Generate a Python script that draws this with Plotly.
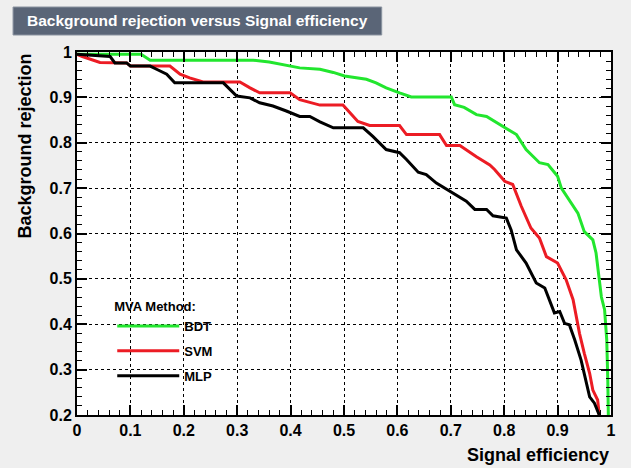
import plotly.graph_objects as go

# ---- data ----
bdt_x = [0.0, 0.12, 0.137, 0.33, 0.36, 0.404, 0.417, 0.455, 0.48, 0.501, 0.542, 0.56, 0.579, 0.604,
         0.626, 0.701, 0.707, 0.725, 0.748, 0.767, 0.798, 0.823, 0.841, 0.866, 0.882, 0.9, 0.907,
         0.938, 0.95, 0.966, 0.972, 0.978, 0.982, 0.988, 0.992, 0.994, 0.995]
bdt_y = [0.995, 0.995, 0.982, 0.982, 0.978, 0.969, 0.965, 0.962, 0.955, 0.947, 0.94, 0.932, 0.921, 0.91,
         0.901, 0.901, 0.884, 0.878, 0.862, 0.858, 0.836, 0.818, 0.785, 0.756, 0.752, 0.726, 0.7,
         0.645, 0.604, 0.586, 0.557, 0.498, 0.46, 0.432, 0.366, 0.277, 0.2]

svm_x = [0.0, 0.01, 0.043, 0.093, 0.1, 0.174, 0.193, 0.211, 0.236, 0.305, 0.324, 0.342, 0.399, 0.417,
         0.455, 0.498, 0.526, 0.548, 0.604, 0.617, 0.679, 0.692, 0.717, 0.748, 0.773, 0.782, 0.801,
         0.816, 0.832, 0.85, 0.866, 0.879, 0.9, 0.916, 0.929, 0.941, 0.95, 0.96, 0.966, 0.975, 0.978]
svm_y = [0.995, 0.99, 0.977, 0.976, 0.969, 0.969, 0.951, 0.943, 0.934, 0.934, 0.921, 0.91, 0.91, 0.895,
         0.883, 0.883, 0.847, 0.838, 0.838, 0.818, 0.818, 0.794, 0.794, 0.769, 0.751, 0.741, 0.715,
         0.708, 0.66, 0.612, 0.59, 0.549, 0.535, 0.498, 0.454, 0.38, 0.336, 0.292, 0.255, 0.233, 0.2]

mlp_x = [0.0, 0.062, 0.071, 0.093, 0.1, 0.137, 0.149, 0.168, 0.183, 0.274, 0.299, 0.324, 0.342, 0.367,
         0.392, 0.417, 0.436, 0.455, 0.48, 0.536, 0.554, 0.579, 0.604, 0.617, 0.639, 0.654, 0.673,
         0.704, 0.729, 0.745, 0.767, 0.779, 0.804, 0.813, 0.823, 0.841, 0.86, 0.876, 0.885, 0.894,
         0.904, 0.913, 0.922, 0.932, 0.944, 0.954, 0.96, 0.969, 0.978]
mlp_y = [0.995, 0.99, 0.976, 0.976, 0.969, 0.969, 0.962, 0.951, 0.932, 0.932, 0.903, 0.899, 0.888, 0.881,
         0.87, 0.858, 0.858, 0.846, 0.833, 0.833, 0.814, 0.785, 0.778, 0.763, 0.735, 0.73, 0.711,
         0.689, 0.671, 0.653, 0.653, 0.639, 0.634, 0.608, 0.564, 0.535, 0.491, 0.48, 0.454, 0.425,
         0.428, 0.402, 0.399, 0.366, 0.321, 0.27, 0.24, 0.226, 0.2]

method_names = ["BDT", "SVM", "MLP"]
method_colors = ["#22e62e", "#ec1c24", "#000000"]

x_tickvals = [0, 0.1, 0.2, 0.3, 0.4, 0.5, 0.6, 0.7, 0.8, 0.9, 1.0]
x_ticktext = ["0", "0.1", "0.2", "0.3", "0.4", "0.5", "0.6", "0.7", "0.8", "0.9", "1"]
y_tickvals = [0.2, 0.3, 0.4, 0.5, 0.6, 0.7, 0.8, 0.9, 1.0]
y_ticktext = ["0.2", "0.3", "0.4", "0.5", "0.6", "0.7", "0.8", "0.9", "1"]

title_text = "Background rejection versus Signal efficiency"
x_title = "Signal efficiency"
y_title = "Background rejection"
legend_title = "MVA Method:"

FONT = "Liberation Sans"

fig = go.Figure()
for i, (name, xs, ys) in enumerate(zip(method_names, [bdt_x, svm_x, mlp_x], [bdt_y, svm_y, mlp_y])):
    fig.add_trace(go.Scatter(x=xs, y=ys, mode="lines", name=name, legendgroup=name,
                             line=dict(color=method_colors[i], width=3), cliponaxis=True))

axis_common = dict(
    showline=True, linecolor="black", linewidth=2, mirror="allticks",
    ticks="inside", ticklen=10, tickwidth=1.5, tickcolor="black",
    showgrid=True, gridcolor="black", griddash="dot", gridwidth=1,
    zeroline=False,
    tickfont=dict(family=FONT, size=16, color="black", weight="bold"),
    minor=dict(ticks="inside", ticklen=5, tickwidth=1, tickcolor="black", dtick=0.02, showgrid=False),
)

fig.update_layout(
    width=631, height=468,
    margin=dict(l=77, r=19.5, t=52, b=53),
    paper_bgcolor="#efefef", plot_bgcolor="white",
    xaxis=dict(range=[0, 1], tickvals=x_tickvals, ticktext=x_ticktext, **axis_common),
    yaxis=dict(range=[0.2, 1.0], tickvals=y_tickvals, ticktext=y_ticktext, **axis_common),
    showlegend=True,
    legend=dict(
        x=0.066, y=0.333, xanchor="left", yanchor="top",
        bgcolor="rgba(0,0,0,0)", borderwidth=0,
        title=dict(text=legend_title, font=dict(family=FONT, size=13, color="black", weight="bold")),
        font=dict(family=FONT, size=13, color="black", weight="bold"),
        itemwidth=62, tracegroupgap=5,
    ),
    shapes=[dict(type="rect", xref="paper", yref="paper",
                 x0=(13 - 77) / 534.5, x1=(382 - 77) / 534.5,
                 y0=(415 - 35) / 363, y1=(415 - 7) / 363,
                 fillcolor="#5a6577", line=dict(color="#8a93a0", width=1), layer="above")],
    annotations=[
        dict(text=title_text, xref="paper", yref="paper",
             x=(197.5 - 77) / 534.5, y=(415 - 21) / 363, xanchor="center", yanchor="middle",
             showarrow=False, font=dict(family=FONT, size=15.5, color="white", weight="bold")),
        dict(text=x_title, xref="paper", yref="paper", x=1.0, y=(415 - 455) / 363,
             xanchor="right", yanchor="middle", showarrow=False,
             font=dict(family=FONT, size=18, color="black", weight="bold")),
        dict(text=y_title, xref="paper", yref="paper", x=(24 - 77) / 534.5, y=(415 - 52) / 363,
             xanchor="center", yanchor="top", textangle=-90, showarrow=False,
             font=dict(family=FONT, size=18, color="black", weight="bold")),
    ],
)

fig.write_html("out.html")
